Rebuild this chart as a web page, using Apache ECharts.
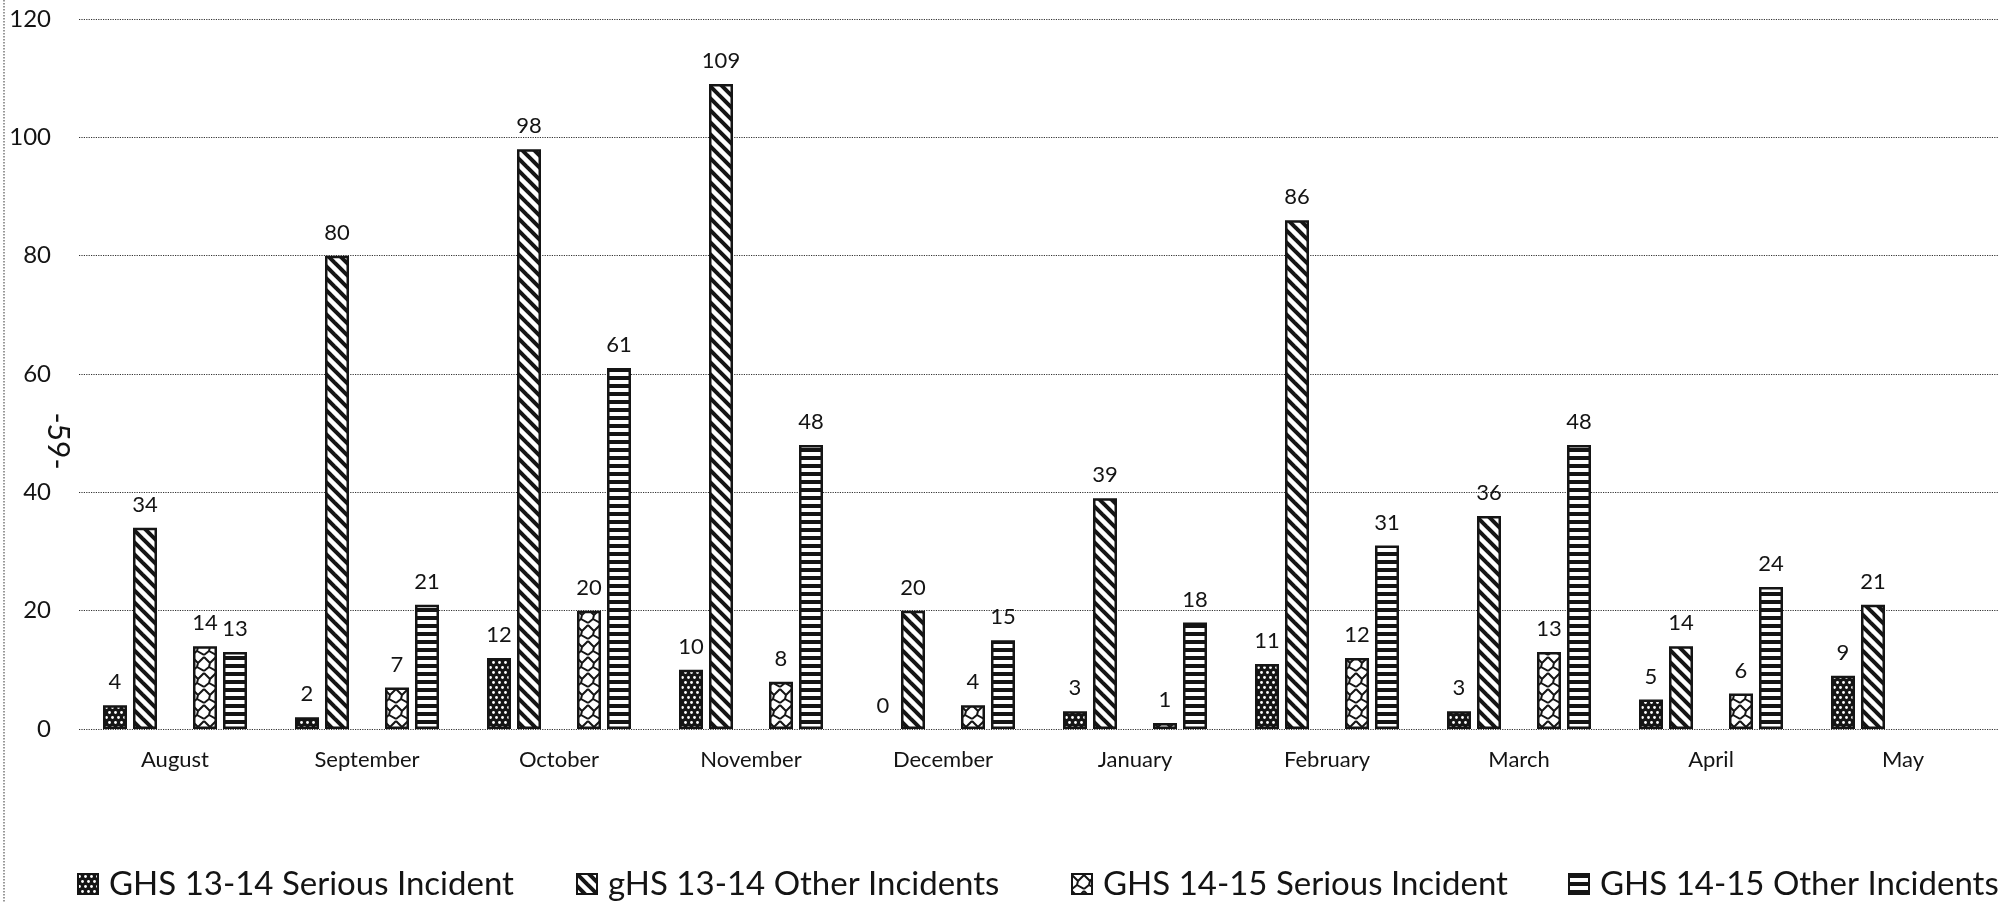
<!DOCTYPE html>
<html>
<head>
<meta charset="utf-8">
<script src="https://cdn.jsdelivr.net/npm/echarts@6/dist/echarts.min.js"></script>
<style>
  html, body { margin: 0; padding: 0; background: #fff; }
  #chart { width: 2003px; height: 902px; }
</style>
</head>
<body>
<div id="chart"></div>
<script>
// Monthly incident counts, two school years
const months = ['August', 'September', 'October', 'November', 'December',
                'January', 'February', 'March', 'April', 'May'];
const serious1314 = [4, 2, 12, 10, 0, 3, 11, 3, 5, 9];
const other1314   = [34, 80, 98, 109, 20, 39, 86, 36, 14, 21];
const serious1415 = [14, 7, 20, 8, 4, 1, 12, 13, 6, null];
const other1415   = [13, 21, 61, 48, 15, 18, 31, 48, 24, null];
const seriesNames = ['GHS 13-14 Serious Incident', 'gHS 13-14 Other Incidents',
                     'GHS 14-15 Serious Incident', 'GHS 14-15 Other Incidents'];
const yTicks = { min: 0, max: 120, step: 20 };

const INK = '#151515';
const TEXT = '#141414';
const FONT = 'Lato, "Liberation Sans", sans-serif';

// Small canvas tiles used as repeating fill patterns
function tile(w, h, draw) {
  const c = document.createElement('canvas');
  c.width = w; c.height = h;
  const ctx = c.getContext('2d');
  ctx.fillStyle = '#fff';
  ctx.fillRect(0, 0, w, h);
  draw(ctx, w, h);
  return { image: c, repeat: 'repeat' };
}

// dark dotted checker
const dotPattern = tile(6, 10, (ctx) => {
  ctx.fillStyle = INK;
  ctx.fillRect(0, 0, 6, 10);
  ctx.fillStyle = '#fff';
  [[1.5, 2.5], [4.5, 7.5]].forEach(([x, y]) => {
    ctx.beginPath(); ctx.arc(x, y, 1.4, 0, Math.PI * 2); ctx.fill();
  });
});

// wide downward diagonal stripes
const diagPattern = tile(12, 12, (ctx) => {
  ctx.strokeStyle = INK;
  ctx.lineWidth = 4;
  [[-6, -6, 18, 18], [-6, 6, 6, 18], [6, -6, 18, 6]].forEach(([a, b, c, d]) => {
    ctx.beginPath(); ctx.moveTo(a, b); ctx.lineTo(c, d); ctx.stroke();
  });
});

// braided chevrons
const wavePattern = tile(12, 16, (ctx) => {
  ctx.strokeStyle = INK;
  ctx.lineWidth = 2;
  ctx.lineJoin = 'round';
  ctx.beginPath();
  ctx.moveTo(0, 1); ctx.lineTo(6, 7); ctx.lineTo(12, 1);
  ctx.moveTo(6, 7); ctx.lineTo(5, 11); ctx.lineTo(0, 15);
  ctx.moveTo(5, 11); ctx.lineTo(12, 15);
  ctx.stroke();
});

// horizontal stripes
const stripePattern = tile(4, 8, (ctx) => {
  ctx.fillStyle = INK;
  ctx.fillRect(0, 0, 4, 4);
});

const patterns = [dotPattern, diagPattern, wavePattern, stripePattern];
const values = [serious1314, other1314, serious1415, other1415];

function barData(arr) {
  return arr.map(v => (v === 0 ? { value: 0, itemStyle: { borderWidth: 0 } } : v));
}

function barSeries(i) {
  return {
    name: seriesNames[i],
    type: 'bar',
    data: barData(values[i]),
    barWidth: 24,
    barGap: '25%',
    itemStyle: { color: patterns[i], borderColor: INK, borderWidth: 2.5 },
    label: {
      show: true, position: 'top', distance: 12,
      fontFamily: FONT, fontSize: 22, color: TEXT
    },
    emphasis: { disabled: true },
    animation: false
  };
}

const series = [barSeries(0), barSeries(1),
  // empty slot between the two school years
  { name: 'gap', type: 'bar', data: months.map(() => null), barWidth: 24, barGap: '25%', silent: true },
  barSeries(2), barSeries(3)];

// one legend block per series, laid out along the bottom row
const legendLefts = [72, 571, 1066, 1563];
const legends = seriesNames.map((name, i) => ({
  data: [name],
  left: legendLefts[i], top: 859,
  itemWidth: 20, itemHeight: 20,
  icon: 'rect',
  textStyle: { fontFamily: FONT, fontSize: 33, color: TEXT, lineHeight: 40, padding: [0, 0, 0, 6] },
  selectedMode: false
}));

const chart = echarts.init(document.getElementById('chart'), null, { renderer: 'canvas' });
chart.setOption({
  animation: false,
  backgroundColor: '#fff',
  grid: { left: 79, right: 4, top: 19, bottom: 173, containLabel: false },
  xAxis: {
    type: 'category',
    data: months,
    axisLine: { show: false },
    axisTick: { show: false },
    axisLabel: { fontFamily: FONT, fontSize: 22, color: TEXT, margin: 20 }
  },
  yAxis: {
    type: 'value',
    min: yTicks.min, max: yTicks.max, interval: yTicks.step,
    axisLine: { show: false },
    axisTick: { show: false },
    axisLabel: { fontFamily: FONT, fontSize: 24, color: TEXT, margin: 28 },
    splitLine: { show: true, lineStyle: { type: 'dotted', color: '#333', width: 1.2 } }
  },
  legend: legends,
  graphic: [
    {
      type: 'line', silent: true,
      shape: { x1: 4, y1: 0, x2: 4, y2: 902 },
      style: { stroke: '#555', lineWidth: 1.2, lineDash: [1.5, 1.5] }
    },
    {
      type: 'text', silent: true,
      x: 58, y: 441, rotation: -Math.PI / 2,
      style: { text: '-59-', fontFamily: FONT, fontSize: 30, fill: TEXT,
               align: 'center', verticalAlign: 'middle' }
    }
  ],
  series: series
});
</script>
</body>
</html>
